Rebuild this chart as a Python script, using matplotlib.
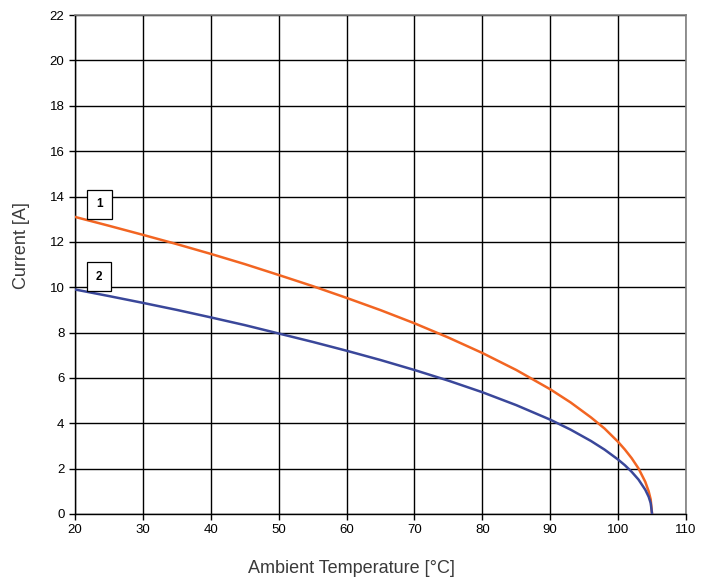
import matplotlib
matplotlib.use('Agg')
import matplotlib.pyplot as plt

# Values
temp_1 = [20, 25, 30, 35, 40, 45, 50, 55, 60, 65, 70, 75, 80, 85, 90, 93, 96,
          98, 100, 101, 102, 103, 104, 104.5, 104.8, 105]
current_1 = [13.1, 12.71, 12.31, 11.9, 11.47, 11.02, 10.54, 10.05, 9.53, 8.99,
             8.41, 7.78, 7.1, 6.35, 5.5, 4.92, 4.26, 3.77, 3.18, 2.84, 2.46,
             2.01, 1.42, 1.0, 0.64, 0.0]
temp_2 = temp_1
current_2 = [9.9, 9.61, 9.31, 9.0, 8.67, 8.33, 7.96, 7.59, 7.2, 6.79, 6.35,
             5.88, 5.37, 4.8, 4.16, 3.72, 3.22, 2.84, 2.4, 2.15, 1.86, 1.52,
             1.07, 0.76, 0.48, 0.0]
curve_labels = ['1', '2']
label_pos = [(23.6, 13.65), (23.5, 10.47)]

x_ticks = list(range(20, 111, 10))
y_ticks = list(range(0, 23, 2))

plt.rcParams['font.family'] = ['Liberation Sans', 'DejaVu Sans']

fig = plt.figure(figsize=(7.1, 5.8), dpi=100)
ax = fig.add_axes([0.1056, 0.1138, 0.8606, 0.8602])

ax.plot(temp_1, current_1, color='#f26522', linewidth=1.8, zorder=3)
ax.plot(temp_2, current_2, color='#3a479a', linewidth=1.8, zorder=3)

for lab, (tx, ty) in zip(curve_labels, label_pos):
    ax.text(tx, ty, lab, ha='center', va='center', fontsize=8.5, fontweight='bold',
            zorder=4,
            bbox=dict(boxstyle='square,pad=0.75', facecolor='white',
                      edgecolor='black', linewidth=0.9))

ax.set_xlim(20, 110)
ax.set_ylim(0, 22)
ax.set_xticks(x_ticks)
ax.set_yticks(y_ticks)
ax.grid(True, color='black', linewidth=1.0)
ax.set_axisbelow(True)
ax.tick_params(direction='out', length=4, width=1, labelsize=9.5, colors='black')

for side in ['top', 'right']:
    ax.spines[side].set_color('#808080')
    ax.spines[side].set_linewidth(1.2)
for side in ['left', 'bottom']:
    ax.spines[side].set_color('black')
    ax.spines[side].set_linewidth(1.0)

ax.set_xlabel('Ambient Temperature [°C]', fontsize=13, color='#3a3a3a', va='center')
ax.set_ylabel('Current [A]', fontsize=13, color='#3a3a3a', va='center')
ax.xaxis.set_label_coords(0.453, -0.110)
ax.yaxis.set_label_coords(-0.087, 0.539)

fig.savefig('out.png', dpi=100)
